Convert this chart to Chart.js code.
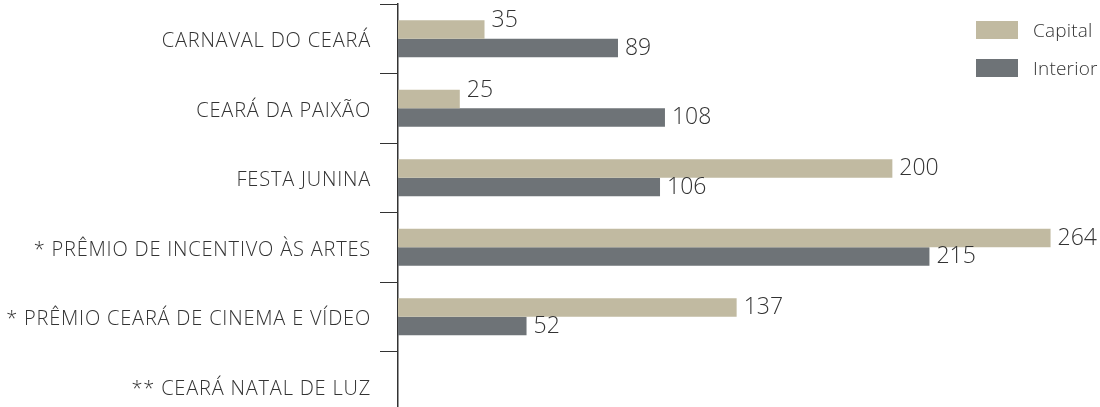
<!DOCTYPE html>
<html>
<head>
<meta charset="utf-8">
<script src="https://cdn.jsdelivr.net/npm/chart.js@4.4.1/dist/chart.umd.min.js"></script>
<style>
  html, body { margin: 0; padding: 0; background: #fff; width: 1100px; height: 407px; overflow: hidden; }
  #wrap { position: relative; width: 1100px; height: 425px; }
  #legend { position: absolute; left: 976px; top: 21px; font-family: 'Open Sans', sans-serif; font-weight: 300; font-size: 19px; letter-spacing: 0.2px; color: #333; }
  #legend .item { display: flex; align-items: center; height: 18px; margin-bottom: 20px; white-space: nowrap; }
  #legend .sw { width: 42px; height: 18px; margin-right: 15px; flex: none; }
</style>
</head>
<body>
<div id="wrap">
  <canvas id="c"></canvas>
  <div id="legend"></div>
</div>
<script>
const categories = [
  'CARNAVAL DO CEARÁ',
  'CEARÁ DA PAIXÃO',
  'FESTA JUNINA',
  '* PRÊMIO DE INCENTIVO ÀS ARTES',
  '* PRÊMIO CEARÁ DE CINEMA E VÍDEO',
  '** CEARÁ NATAL DE LUZ'
];
const seriesNames = ['Capital', 'Interior'];
const capitalValues = [35, 25, 200, 264, 137, null];
const interiorValues = [89, 108, 106, 215, 52, null];

const colors = ['#c1baa1', '#6e7377'];
const FONT = "'Open Sans', sans-serif";

const legendEl = document.getElementById('legend');
seriesNames.forEach((n, i) => {
  const d = document.createElement('div');
  d.className = 'item';
  d.innerHTML = '<span class="sw" style="background:' + colors[i] + '"></span><span>' + n + '</span>';
  legendEl.appendChild(d);
});

const spacing = {
  id: 'spacing',
  beforeDraw(chart) { chart.ctx.letterSpacing = '0.8px'; }
};

const valueLabels = {
  id: 'valueLabels',
  afterDatasetsDraw(chart) {
    const ctx = chart.ctx;
    ctx.save();
    ctx.letterSpacing = '0px';
    ctx.font = '300 23px ' + FONT;
    ctx.fillStyle = '#333';
    ctx.textBaseline = 'middle';
    ctx.textAlign = 'left';
    const sets = chart.data.datasets;
    sets.forEach((ds, i) => {
      const meta = chart.getDatasetMeta(i);
      meta.data.forEach((bar, j) => {
        const v = ds.data[j];
        if (v === null || v === undefined) return;
        let y = bar.y;
        if (i === 0) {
          const other = sets[1].data[j];
          if (other !== null && other > v) y -= 9;
        }
        ctx.fillText(String(v), bar.x + 7, y);
      });
    });
    ctx.restore();
  }
};

new Chart(document.getElementById('c'), {
  type: 'bar',
  data: {
    labels: categories,
    datasets: [
      { label: seriesNames[0], data: capitalValues, backgroundColor: colors[0] },
      { label: seriesNames[1], data: interiorValues, backgroundColor: colors[1] }
    ]
  },
  options: {
    indexAxis: 'y',
    responsive: true,
    maintainAspectRatio: false,
    animation: false,
    layout: { padding: { top: 4, bottom: 4, left: 0, right: 0 } },
    categoryPercentage: 0.532,
    barPercentage: 1,
    plugins: { legend: { display: false }, tooltip: { enabled: false } },
    scales: {
      x: { display: false, min: 0, max: 284 },
      y: {
        afterFit(scale) { scale.width = 398; scale.paddingTop = 0; scale.paddingBottom = 0; },
        grid: { display: true, drawOnChartArea: false, drawTicks: true, tickLength: 18, color: '#333', lineWidth: 1 },
        border: { display: true, color: '#333', width: 1.5 },
        ticks: { padding: 9, labelOffset: 3, color: '#333', font: { family: FONT, size: 20, weight: '300' } }
      }
    }
  },
  plugins: [spacing, valueLabels]
});
</script>
</body>
</html>
